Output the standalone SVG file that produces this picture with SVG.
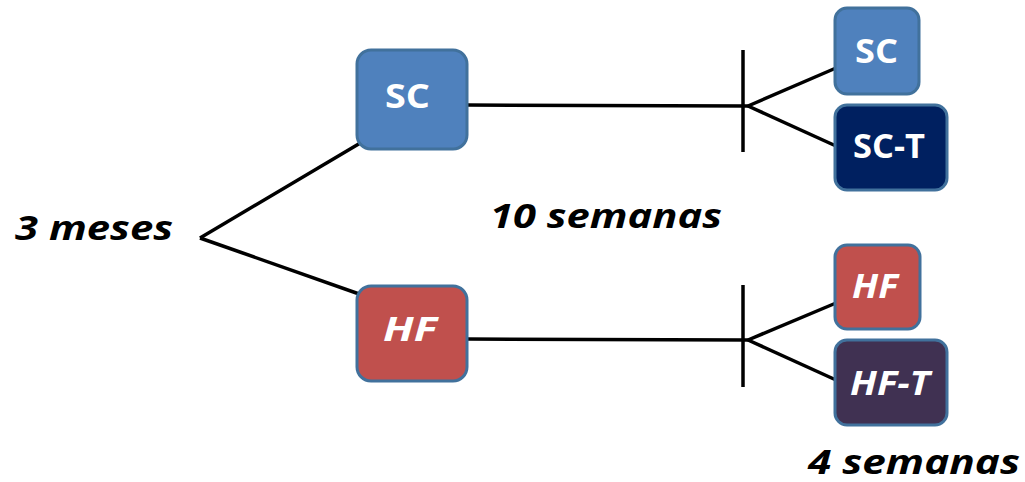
<svg xmlns="http://www.w3.org/2000/svg" width="1025" height="482" viewBox="0 0 1025 482">
<style>
.box{stroke:#41719c;stroke-width:3}
.lbl{font-family:"Open Sans","DejaVu Sans",sans-serif;font-weight:bold;fill:#fff;font-size:34px}
.cap{font-family:"Open Sans","DejaVu Sans",sans-serif;font-weight:bold;font-style:italic;fill:#000;font-size:34px}
.ln{stroke:#000;stroke-width:3.5;fill:none}
</style>
<g id="connectors">
<line class="ln" x1="200" y1="238" x2="362" y2="142"/>
<line class="ln" x1="200" y1="238" x2="362" y2="295"/>
<line class="ln" x1="467" y1="105" x2="748" y2="106"/>
<line class="ln" x1="743" y1="50" x2="743" y2="152"/>
<line class="ln" x1="748" y1="106" x2="836" y2="68"/>
<line class="ln" x1="748" y1="106" x2="836" y2="146"/>
<line class="ln" x1="467" y1="339" x2="748" y2="340"/>
<line class="ln" x1="743" y1="285" x2="743" y2="387"/>
<line class="ln" x1="748" y1="340" x2="836" y2="303"/>
<line class="ln" x1="748" y1="340" x2="836" y2="380"/>
</g>
<g id="sc-main"><rect class="box" x="357" y="50" width="110" height="99" rx="14" fill="#4f81bd"/><text class="lbl" x="385" y="108" textLength="45" lengthAdjust="spacingAndGlyphs">SC</text></g>
<g id="hf-main"><rect class="box" x="357" y="286" width="110" height="95" rx="14" fill="#c0504d"/><text class="lbl" x="383" y="341" font-style="italic" textLength="54" lengthAdjust="spacingAndGlyphs">HF</text></g>
<g id="sc-right"><rect class="box" x="835" y="8" width="84" height="86" rx="12" fill="#4f81bd"/><text class="lbl" x="855" y="63" textLength="43" lengthAdjust="spacingAndGlyphs">SC</text></g>
<g id="sct-right"><rect class="box" x="835" y="105" width="112" height="85" rx="12" fill="#002060"/><text class="lbl" x="853" y="158" textLength="72" lengthAdjust="spacingAndGlyphs">SC-T</text></g>
<g id="hf-right"><rect class="box" x="835" y="245" width="85" height="84" rx="12" fill="#c0504d"/><text class="lbl" x="852" y="298" font-style="italic" textLength="46" lengthAdjust="spacingAndGlyphs">HF</text></g>
<g id="hft-right"><rect class="box" x="835" y="340" width="112" height="85" rx="12" fill="#403152"/><text class="lbl" x="850" y="395" font-style="italic" textLength="80" lengthAdjust="spacingAndGlyphs">HF-T</text></g>
<g id="labels">
<text class="cap" x="15" y="240" textLength="158" lengthAdjust="spacingAndGlyphs">3 meses</text>
<text class="cap" x="490" y="228" textLength="232" lengthAdjust="spacingAndGlyphs">10 semanas</text>
<text class="cap" x="808" y="474" textLength="212" lengthAdjust="spacingAndGlyphs">4 semanas</text>
</g>
</svg>
